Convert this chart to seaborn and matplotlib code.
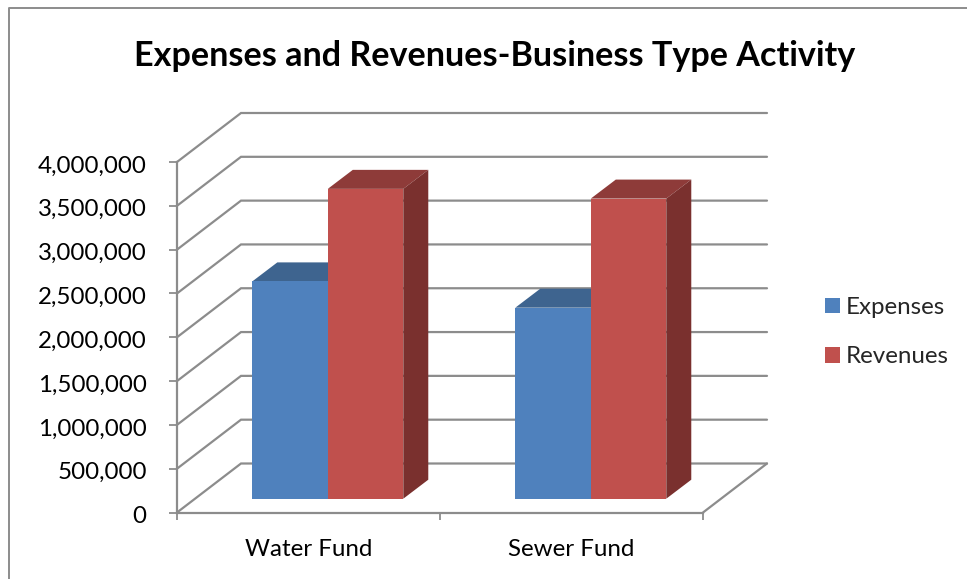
import matplotlib
matplotlib.use("Agg")
import matplotlib.pyplot as plt
import pandas as pd
import seaborn as sns
from matplotlib.lines import Line2D
from matplotlib.patches import Polygon
from matplotlib.transforms import Affine2D

funds = ["Water Fund", "Sewer Fund"]
expenses = [2480000, 2180000]
revenues = [3536000, 3425000]
y_ticks = [0, 500000, 1000000, 1500000, 2000000, 2500000, 3000000, 3500000, 4000000]
y_labels = ["0", "500,000", "1,000,000", "1,500,000", "2,000,000", "2,500,000", "3,000,000", "3,500,000", "4,000,000"]

W, H = 967, 579
GREY = "#8c8c8c"
BLUE = "#4f81bd"
RED = "#c0504d"
SHADES = {BLUE: ("#3e648f", "#375a82"), RED: ("#8e3b39", "#7a302e")}
FS = 17.4

sns.set_theme(style="white")
plt.rcParams["font.family"] = ["Lato", "DejaVu Sans"]


def main():
    df = pd.DataFrame({
        "fund": funds * 2,
        "series": ["Expenses"] * 2 + ["Revenues"] * 2,
        "value": expenses + revenues,
    })

    fig = plt.figure(figsize=(W / 100, H / 100), dpi=100)
    # front edge of the 3d box, in pixels
    left, right, bottom, top = 177, 703, 512.5, 162
    ax = fig.add_axes([left / W, 1 - bottom / H, (right - left) / W, (bottom - top) / H])

    sns.barplot(data=df, x="fund", y="value", hue="series", palette=[BLUE, RED],
                saturation=1, width=0.574, gap=0, linewidth=0, ax=ax, zorder=5)
    ax.set_xlim(-0.5, 1.5)
    ax.set_ylim(0, 4000000)

    px_x = 2 / (right - left)
    px_y = 4000000 / (bottom - top)

    # walls and floor
    back_x, back_y = 64 * px_x, 49 * px_y
    for v in y_ticks:
        ax.plot([-0.5, -0.5 + back_x, 1.5 + back_x], [v, v + back_y, v + back_y],
                color=GREY, lw=1.6, clip_on=False, zorder=1, solid_joinstyle="miter")
    ax.plot([1.5 + back_x, 1.5], [back_y, 0], color=GREY, lw=1.6, clip_on=False, zorder=1)

    # bars stand inside the box, depth faces are added by hand
    shift_x, shift_y = 19.3 * px_x, 13.8 * px_y
    depth_x, depth_y = 25 * px_x, 19 * px_y
    for i, bar in enumerate(ax.patches):
        bar.set_x(bar.get_x() + shift_x)
        bar.set_y(bar.get_y() + shift_y)
        bar.set_zorder(5 + i * 3 + 2)
        bar.set_clip_on(False)
        x0, x1 = bar.get_x(), bar.get_x() + bar.get_width()
        y0, y1 = bar.get_y(), bar.get_y() + bar.get_height()
        color = BLUE if i < 2 else RED
        top_c, side_c = SHADES[color]
        ax.add_patch(Polygon([(x0, y1), (x1, y1), (x1 + depth_x, y1 + depth_y), (x0 + depth_x, y1 + depth_y)],
                             closed=True, fc=top_c, ec="none", clip_on=False, zorder=5 + i * 3))
        ax.add_patch(Polygon([(x1, y0), (x1, y1), (x1 + depth_x, y1 + depth_y), (x1 + depth_x, y0 + depth_y)],
                             closed=True, fc=side_c, ec="none", clip_on=False, zorder=5 + i * 3 + 1))

    sns.despine(ax=ax)
    for s in ["left", "bottom"]:
        ax.spines[s].set_color(GREY)
        ax.spines[s].set_linewidth(1.6)

    ax.set_xlabel("")
    ax.set_ylabel("")
    ax.set_yticks(y_ticks)
    ax.set_yticklabels(y_labels)
    ax.set_xticks([0, 1])
    ax.set_xticklabels(funds)
    ax.set_xticks([-0.5, 0.5, 1.5], minor=True)
    ax.tick_params(axis="y", left=True, length=5.8, width=1.3, color=GREY, pad=16, labelsize=FS, labelcolor="black")
    ax.tick_params(axis="x", which="major", bottom=False, pad=13, labelsize=FS, labelcolor="black")
    ax.tick_params(axis="x", which="minor", bottom=True, length=5, width=1.3, color=GREY)
    for lab in ax.get_yticklabels():
        lab.set_transform(lab.get_transform() + Affine2D().translate(0, -2))

    ax.legend(frameon=False, loc="upper left", bbox_to_anchor=(825 / W, 1 - 297 / H),
              bbox_transform=fig.transFigure, fontsize=FS, handlelength=0.62, handleheight=0.62,
              handletextpad=0.25, labelspacing=1.17, borderpad=0, borderaxespad=0)

    fig.text(494.5 / W, 1 - 56 / H, "Expenses and Revenues-Business Type Activity",
             ha="center", va="center", fontsize=24.6, fontweight="bold", color="black")

    # chart area border, only top and left are in the crop
    fig.add_artist(Line2D([9 / W, 9 / W, 1], [0, 1 - 8 / H, 1 - 8 / H], color=GREY, lw=1.4))

    fig.savefig("out.png", dpi=100)
    plt.close(fig)


if __name__ == "__main__":
    main()
